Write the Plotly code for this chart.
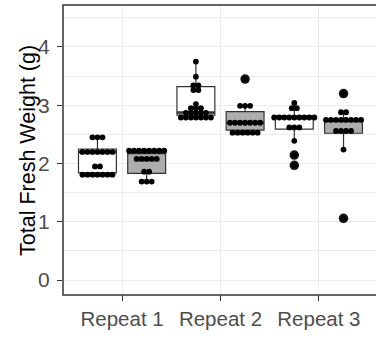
import plotly.graph_objects as go

# ---- data ----
repeats = ["Repeat 1", "Repeat 2", "Repeat 3"]
y_title = "Total Fresh Weight (g)"

# individual plants (dot plot), white-box series
white_dots = [
    [2.45, 2.45, 2.45, 2.20, 2.20, 2.20, 2.20, 2.20, 2.20, 2.20,
     1.95, 1.95, 1.81, 1.81, 1.81, 1.81, 1.81, 1.81, 1.81],
    [3.75, 3.49, 3.34, 3.34, 3.26, 3.26, 3.02, 2.95, 2.95, 2.95,
     2.87, 2.87, 2.87, 2.87, 2.87, 2.79, 2.79, 2.79, 2.79, 2.79, 2.79, 2.79],
    [3.04, 2.95, 2.95, 2.79, 2.79, 2.79, 2.79, 2.79, 2.79, 2.79, 2.79, 2.79,
     2.62, 2.62, 2.62, 2.39, 2.145, 1.97],
]
# grey-box series
grey_dots = [
    [2.22, 2.22, 2.22, 2.22, 2.22, 2.22, 2.22, 2.22, 2.08, 2.08, 2.08, 2.08, 2.08,
     1.86, 1.86, 1.69, 1.69, 1.69],
    [3.45, 2.99, 2.99, 2.99, 2.70, 2.70, 2.70, 2.70, 2.70, 2.70, 2.70,
     2.53, 2.53, 2.53, 2.53, 2.53, 2.53],
    [3.20, 2.88, 2.88, 2.75, 2.75, 2.75, 2.75, 2.75, 2.75, 2.75, 2.75,
     2.56, 2.56, 2.56, 2.56, 2.24, 1.06],
]

# box summaries
white_q1 = [1.84, 2.83, 2.59]
white_med = [2.20, 2.875, 2.79]
white_q3 = [2.25, 3.32, 2.82]
white_lo = [1.81, 2.79, 2.39]
white_hi = [2.45, 3.75, 3.04]
white_out = [[], [], [2.145, 1.97]]

grey_q1 = [1.83, 2.575, 2.52]
grey_med = [2.18, 2.70, 2.73]
grey_q3 = [2.24, 2.89, 2.76]
grey_lo = [1.69, 2.53, 2.24]
grey_hi = [2.24, 2.99, 2.88]
grey_out = [[], [3.45], [3.20, 1.06]]

# ---- styling ----
FONT = "Liberation Sans, Arial, sans-serif"
EDGE = "#333333"
GRID = "#EBEBEB"
positions = [1, 2, 3]
dodge = 0.25
box_w = 0.385
dot_step = 0.051

series = [
    ("white", -dodge, "#FFFFFF", white_dots, white_q1, white_med, white_q3, white_lo, white_hi, white_out),
    ("grey", dodge, "#ADADAD", grey_dots, grey_q1, grey_med, grey_q3, grey_lo, grey_hi, grey_out),
]

fig = go.Figure()

for name, off, fill, dots, q1, med, q3, lo, hi, outl in series:
    for i, pos in enumerate(positions):
        xc = pos + off
        fig.add_trace(go.Box(
            x=[xc], q1=[q1[i]], median=[med[i]], q3=[q3[i]],
            lowerfence=[lo[i]], upperfence=[hi[i]],
            width=box_w, fillcolor=fill,
            line=dict(color=EDGE, width=1.2), whiskerwidth=0,
            boxpoints=False, showlegend=False, hoverinfo="skip",
        ))
        # thick median
        fig.add_trace(go.Scatter(
            x=[xc - box_w / 2, xc + box_w / 2], y=[med[i], med[i]],
            mode="lines", line=dict(color=EDGE, width=2.6),
            showlegend=False, hoverinfo="skip",
        ))
        # outliers
        if outl[i]:
            fig.add_trace(go.Scatter(
                x=[xc] * len(outl[i]), y=outl[i], mode="markers",
                marker=dict(size=9.5, color="#151515"),
                showlegend=False, hoverinfo="skip",
            ))

# dot plots (centre-stacked)
for name, off, fill, dots, *_ in series:
    for i, pos in enumerate(positions):
        xc = pos + off
        vals = dots[i]
        counts = {}
        for v in vals:
            counts[v] = counts.get(v, 0) + 1
        xs, ys = [], []
        for v, n in counts.items():
            for k in range(n):
                xs.append(xc + (k - (n - 1) / 2) * dot_step)
                ys.append(v)
        fig.add_trace(go.Scatter(
            x=xs, y=ys, mode="markers",
            marker=dict(size=5.8, color="#000000"),
            showlegend=False, hoverinfo="skip",
        ))

fig.update_layout(
    width=376, height=337,
    margin=dict(l=63, r=0, t=5, b=42),
    paper_bgcolor="white", plot_bgcolor="white",
    font=dict(family=FONT),
    boxmode="overlay",
    xaxis=dict(
        range=[0.4, 3.58], tickvals=positions, ticktext=repeats,
        showgrid=True, gridcolor=GRID, gridwidth=1.3, zeroline=False,
        ticks="outside", ticklen=5, tickwidth=1.2, tickcolor=EDGE,
        tickfont=dict(size=20.5, color="#4D4D4D", family=FONT),
        showline=False,
    ),
    yaxis=dict(
        range=[-0.255, 4.72], tickvals=[0, 1, 2, 3, 4],
        showgrid=True, gridcolor=GRID, gridwidth=1.3, zeroline=False,
        ticks="outside", ticklen=5, tickwidth=1.2, tickcolor=EDGE,
        tickfont=dict(size=21, color="#4D4D4D", family=FONT),
        ticklabelstandoff=3,
        minor=dict(tickvals=[0.5, 1.5, 2.5, 3.5, 4.5], showgrid=True,
                   gridcolor=GRID, gridwidth=1.0, ticks=""),
        showline=False,
    ),
    annotations=[dict(text=y_title, xref="paper", yref="paper",
                      x=-0.112, y=0.5, xanchor="center", yanchor="middle",
                      textangle=-90, showarrow=False,
                      font=dict(size=21.5, color="#000000", family=FONT))],
    shapes=[dict(type="rect", xref="paper", yref="paper", x0=0, x1=1.05, y0=0, y1=1,
                 line=dict(color=EDGE, width=1.5), layer="above")],
)

fig.write_html("out.html")
